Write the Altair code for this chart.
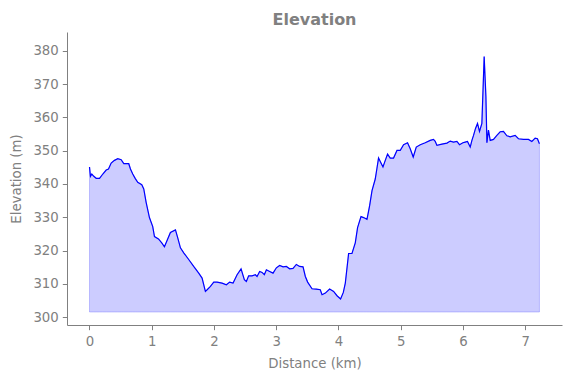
import altair as alt
import pandas as pd

# Distance along route (km)
distance_km = [
    0.000, 0.016, 0.037, 0.069, 0.108, 0.161, 0.214, 0.268, 0.305, 0.348,
    0.401, 0.454, 0.509, 0.551, 0.605, 0.631, 0.658, 0.695, 0.734, 0.775,
    0.840, 0.872, 0.910, 0.963, 1.016, 1.044, 1.108, 1.161, 1.204, 1.300,
    1.381, 1.418, 1.461, 1.514, 1.594, 1.674, 1.755, 1.809, 1.862, 1.890,
    1.943, 1.996, 2.050, 2.130, 2.199, 2.252, 2.307, 2.371, 2.435, 2.488,
    2.520, 2.557, 2.612, 2.665, 2.692, 2.734, 2.773, 2.809, 2.842, 2.895,
    2.949, 3.002, 3.055, 3.110, 3.163, 3.216, 3.270, 3.323, 3.376, 3.431,
    3.468, 3.505, 3.575, 3.644, 3.708, 3.736, 3.789, 3.858, 3.922, 3.977,
    4.034, 4.078, 4.110, 4.163, 4.217, 4.270, 4.307, 4.362, 4.404, 4.458,
    4.500, 4.539, 4.591, 4.619, 4.644, 4.715, 4.752, 4.789, 4.832, 4.885,
    4.940, 4.993, 5.046, 5.110, 5.153, 5.201, 5.250, 5.314, 5.394, 5.474,
    5.527, 5.555, 5.582, 5.662, 5.743, 5.796, 5.848, 5.903, 5.945, 5.999,
    6.036, 6.073, 6.117, 6.144, 6.170, 6.202, 6.234, 6.266, 6.304, 6.341,
    6.369, 6.385, 6.410, 6.438, 6.491, 6.545, 6.598, 6.651, 6.706, 6.759,
    6.839, 6.892, 6.972, 7.053, 7.107, 7.160, 7.197, 7.229,
]

# Elevation (m)
elevation_m = [
    345.1, 342.3, 343.0, 342.3, 341.7, 341.7, 343.0, 344.2, 344.5, 346.3,
    347.1, 347.6, 347.3, 346.1, 346.1, 346.1, 344.5, 343.0, 341.7, 340.5,
    339.8, 338.5, 334.5, 329.9, 327.2, 324.2, 323.5, 322.3, 321.1, 325.4,
    326.2, 323.8, 320.8, 319.3, 317.3, 315.2, 313.2, 311.7, 307.7, 308.2,
    309.2, 310.5, 310.5, 310.2, 309.7, 310.5, 310.2, 312.7, 314.5, 311.2,
    310.7, 312.4, 312.4, 312.7, 312.2, 313.7, 313.4, 312.7, 314.2, 313.7,
    313.2, 314.8, 315.5, 315.1, 315.2, 314.5, 314.6, 315.8, 315.2, 315.1,
    312.2, 310.5, 308.5, 308.4, 308.2, 306.7, 307.2, 308.4, 307.7, 306.4,
    305.4, 307.4, 310.2, 319.1, 319.1, 322.3, 326.9, 330.2, 329.9, 329.4,
    333.4, 338.0, 341.5, 344.8, 347.8, 345.1, 347.1, 349.0, 347.8, 347.8,
    350.1, 350.1, 351.8, 352.4, 350.6, 348.1, 351.1, 351.8, 352.4, 353.1,
    353.4, 352.8, 351.6, 352.0, 352.3, 352.9, 352.6, 352.8, 351.8, 352.4,
    352.6, 352.8, 351.1, 353.1, 354.6, 356.7, 358.2, 355.8, 358.2, 378.3,
    366.3, 352.4, 356.2, 353.1, 353.4, 354.6, 355.7, 355.8, 354.5, 354.2,
    354.6, 353.6, 353.4, 353.4, 352.8, 353.8, 353.6, 352.1,
]

fill_base_m = 301.5
x_ticks = [0, 1, 2, 3, 4, 5, 6, 7]
y_ticks = [300, 310, 320, 330, 340, 350, 360, 370, 380]

df = pd.DataFrame({"km": distance_km, "elev": elevation_m})
df["base"] = fill_base_m

GRAY = "#808080"
FONT = "DejaVu Sans"

x_enc = alt.X(
    "km:Q",
    scale=alt.Scale(domain=[-0.3615, 7.5915], nice=False, zero=False),
    axis=alt.Axis(values=x_ticks, title="Distance (km)", format="d"),
)
y_enc = alt.Y(
    "elev:Q",
    scale=alt.Scale(domain=[297.6, 385.7], nice=False, zero=False),
    axis=alt.Axis(values=y_ticks, title="Elevation (m)", format="d"),
)

area = alt.Chart(df).mark_area(
    fill="blue", fillOpacity=0.2, stroke="blue", strokeOpacity=0.2, strokeWidth=1
).encode(x=x_enc, y=y_enc, y2="base:Q")

line = alt.Chart(df).mark_line(color="blue", strokeWidth=1.2).encode(x=x_enc, y=y_enc)

chart = (
    alt.layer(area, line)
    .properties(
        width=495,
        height=293,
        autosize=alt.AutoSizeParams(type="none"),
        padding={"left": 67, "top": 32, "right": 9, "bottom": 53},
        title=alt.TitleParams(
            "Elevation",
            font=FONT,
            fontSize=16,
            fontWeight="bold",
            color=GRAY,
            anchor="middle",
            frame="group",
            offset=4,
        ),
    )
    .configure_view(stroke=None)
    .configure_axis(
        grid=False,
        domainColor=GRAY,
        domainWidth=1,
        tickColor=GRAY,
        tickWidth=1,
        tickSize=4.7,
        labelColor=GRAY,
        labelFont=FONT,
        labelFontSize=13.3,
        titleColor=GRAY,
        titleFont=FONT,
        titleFontSize=13.3,
        titleFontWeight="normal",
        labelFlush=False,
        labelOverlap=False,
    )
    .configure_axisX(titlePadding=8, labelPadding=5)
    .configure_axisY(titlePadding=9, labelPadding=4)
)

chart.save("out.html", embed_options={"renderer": "svg", "actions": False})
